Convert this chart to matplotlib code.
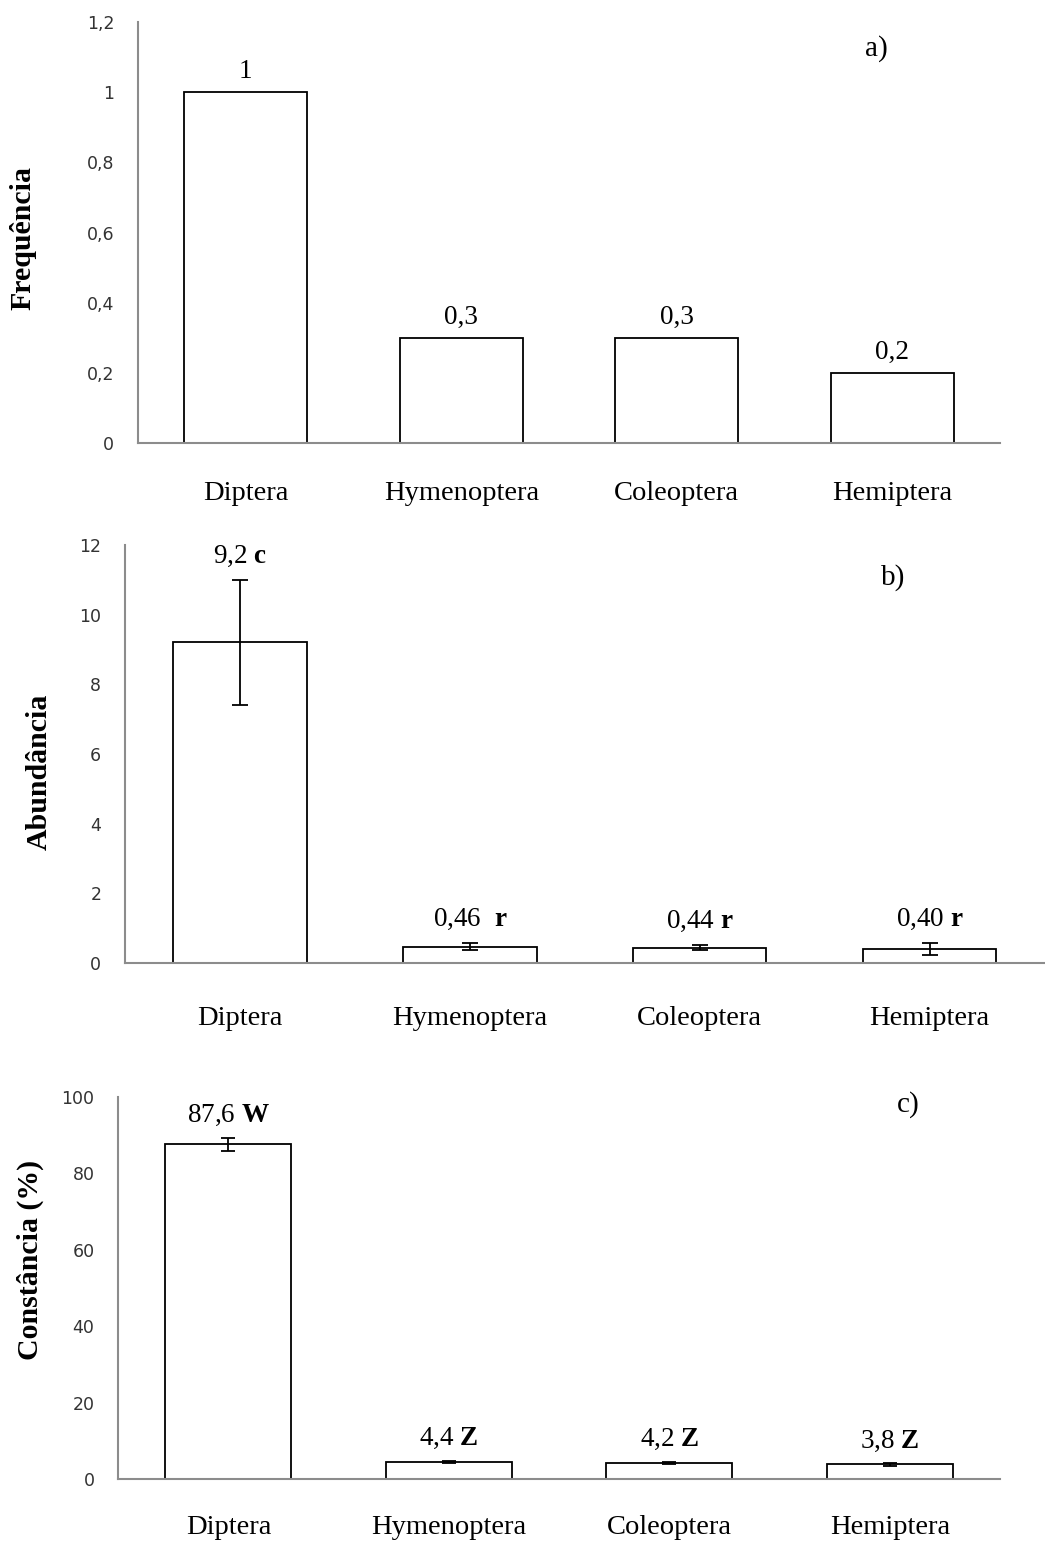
import matplotlib.pyplot as plt

# =========================
# data
# =========================
orders = ["Diptera", "Hymenoptera", "Coleoptera", "Hemiptera"]

freq = [1.0, 0.3, 0.3, 0.2]
freq_labels = ["1", "0,3", "0,3", "0,2"]

abund = [9.2, 0.46, 0.44, 0.40]
abund_err = [1.8, 0.1, 0.08, 0.17]
abund_labels = ["9,2", "0,46 ", "0,44", "0,40"]
abund_letters = ["c", "r", "r", "r"]

const = [87.6, 4.4, 4.2, 3.8]
const_err = [1.7, 0.3, 0.3, 0.3]
const_labels = ["87,6", "4,4", "4,2", "3,8"]
const_letters = ["W", "Z", "Z", "Z"]

plt.rcParams["mathtext.fontset"] = "custom"
plt.rcParams["mathtext.rm"] = "Liberation Serif"
plt.rcParams["mathtext.bf"] = "Liberation Serif:bold"

SERIF = "Liberation Serif"
AXCOL = "#8c8c8c"
VAL_FS = 19.5

fig = plt.figure(figsize=(10.45, 15.48), dpi=100)


def dec(t):
    return ("%g" % round(t, 2)).replace(".", ",")


def setup(ax, ymax, ystep, ylabel, pad, labelpos):
    ax.set_xlim(-0.5, 3.5)
    ax.set_ylim(0, ymax)
    ticks = [i * ystep for i in range(int(round(ymax / ystep)) + 1)]
    ax.set_yticks(ticks)
    ax.set_yticklabels([dec(t) for t in ticks], fontsize=12.5, color="#333333",
                       family="DejaVu Sans")
    ax.set_xticks(range(len(orders)))
    ax.set_xticklabels(orders, family=SERIF, fontsize=20.5)
    ax.tick_params(axis="y", length=0, pad=17)
    ax.tick_params(axis="x", length=0, pad=pad)
    for s in ["top", "right"]:
        ax.spines[s].set_visible(False)
    for s in ["left", "bottom"]:
        ax.spines[s].set_color(AXCOL)
        ax.spines[s].set_linewidth(1.5)
    ax.set_ylabel(ylabel, family=SERIF, fontsize=21.5, fontweight="bold")
    ax.yaxis.set_label_coords(*labelpos)


# =========================
# a) frequency
# =========================
ax1 = fig.add_axes([0.132, 0.7138, 0.825, 0.272])
ax1.bar(range(4), freq, width=0.57, color="white", edgecolor="black", linewidth=1.3)
for i, v in enumerate(freq):
    ax1.annotate(freq_labels[i], (i, v), xytext=(0, 6), textcoords="offset points",
                 ha="center", va="bottom", family=SERIF, fontsize=VAL_FS)
setup(ax1, 1.2, 0.2, "Frequência", 27, (-0.118, 0.487))
ax1.text(0.856, 0.938, "a)", transform=ax1.transAxes, family=SERIF, fontsize=21,
         ha="center", va="center")

# =========================
# b) abundance
# =========================
ax2 = fig.add_axes([0.1196, 0.378, 0.88, 0.270])
ax2.bar(range(4), abund, width=0.58, color="white", edgecolor="black", linewidth=1.3,
        yerr=abund_err, capsize=6, error_kw=dict(elinewidth=1.3, capthick=1.3))
for i, v in enumerate(abund):
    ax2.annotate(abund_labels[i] + r" $\mathbf{" + abund_letters[i] + "}$",
                 (i, v + abund_err[i]), xytext=(0, 8), textcoords="offset points",
                 ha="center", va="bottom", family=SERIF, fontsize=VAL_FS)
setup(ax2, 12, 2, "Abundância", 31, (-0.079, 0.457))
ax2.text(0.835, 0.921, "b)", transform=ax2.transAxes, family=SERIF, fontsize=21,
         ha="center", va="center")

# =========================
# c) constancy
# =========================
ax3 = fig.add_axes([0.113, 0.0446, 0.844, 0.2468])
ax3.bar(range(4), const, width=0.57, color="white", edgecolor="black", linewidth=1.3,
        yerr=const_err, capsize=5, error_kw=dict(elinewidth=1.3, capthick=1.3))
for i, v in enumerate(const):
    ax3.annotate(const_labels[i] + r" $\mathbf{" + const_letters[i] + "}$",
                 (i, v + const_err[i]), xytext=(0, 7), textcoords="offset points",
                 ha="center", va="bottom", family=SERIF, fontsize=VAL_FS)
setup(ax3, 100, 20, "Constância (%)", 26, (-0.084, 0.573))
ax3.text(0.896, 0.979, "c)", transform=ax3.transAxes, family=SERIF, fontsize=21,
         ha="center", va="center")

fig.savefig("out.png", dpi=100, facecolor="white")
